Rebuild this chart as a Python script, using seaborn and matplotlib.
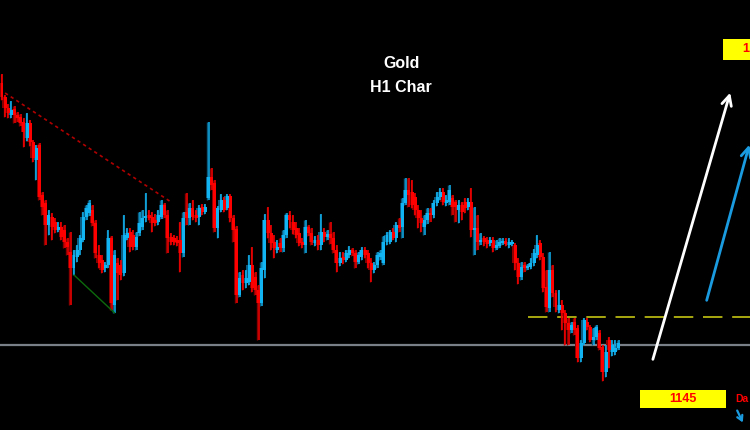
import matplotlib
matplotlib.use("Agg")
import matplotlib.pyplot as plt
import seaborn as sns
import numpy as np
import pandas as pd
from matplotlib.patches import Rectangle

# ---------------- data (Gold, H1 candles) ----------------
opens = [
    1176.7, 1175.3, 1174.2, 1173.5, 1174.1, 1173.5, 1173.3, 1172.8, 1171.2, 1172.7,
    1170.8, 1169.0, 1170.5, 1165.5, 1164.7, 1162.5, 1163.3, 1162.8, 1162.0, 1162.3,
    1162.0, 1160.8, 1159.8, 1158.2, 1159.3, 1160.0, 1161.0, 1163.3, 1163.7, 1164.0,
    1162.7, 1159.5, 1159.0, 1158.2, 1158.5, 1161.2, 1154.5, 1158.7, 1158.5, 1157.7,
    1161.2, 1161.8, 1161.5, 1160.3, 1161.7, 1162.3, 1163.2, 1163.5, 1163.3, 1163.0,
    1162.8, 1163.3, 1164.5, 1163.5, 1161.3, 1161.2, 1161.0, 1161.0, 1159.7, 1163.8,
    1163.2, 1164.2, 1163.5, 1163.3, 1164.3, 1163.8, 1165.2, 1167.3, 1166.7, 1162.2,
    1164.0, 1165.0, 1164.2, 1165.4, 1163.2, 1162.1, 1155.5, 1157.5, 1156.7, 1156.8,
    1158.5, 1157.3, 1156.0, 1154.7, 1158.0, 1163.0, 1161.7, 1160.8, 1160.0, 1160.7,
    1160.2, 1161.5, 1163.5, 1162.8, 1162.2, 1161.7, 1160.8, 1160.5, 1162.3, 1161.7,
    1160.7, 1161.0, 1160.5, 1161.8, 1161.3, 1161.6, 1161.2, 1160.0, 1158.7, 1159.3,
    1159.0, 1159.5, 1160.0,
    1159.7, 1158.8, 1159.3, 1160.0, 1159.7, 1158.7, 1158.0, 1158.5, 1159.3, 1158.7,
    1160.8, 1160.8, 1161.8, 1161.2, 1162.5, 1162.3, 1164.7, 1166.0, 1165.8, 1165.3,
    1164.0, 1163.2, 1162.3, 1163.0, 1163.7, 1163.5, 1164.7, 1165.3, 1165.8, 1164.7,
    1164.8, 1165.2, 1164.8, 1164.0, 1164.5, 1164.8, 1164.3, 1164.8, 1162.0, 1162.2,
    1160.8, 1161.2, 1161.0, 1160.7, 1161.0, 1160.2, 1160.4, 1160.7, 1160.9, 1160.5,
    1160.6, 1160.5, 1158.7, 1157.3, 1158.5, 1158.2, 1158.3, 1158.7, 1159.5, 1160.7,
    1159.3, 1156.3, 1154.2, 1158.0, 1155.7, 1154.0, 1154.5, 1153.7, 1152.7, 1152.0,
    1152.8, 1152.2, 1149.2, 1150.7, 1152.8, 1152.3, 1151.0, 1151.3, 1151.7, 1150.3,
    1147.8, 1151.0, 1149.8, 1149.8, 1150.2,
]
closes = [
    1175.3, 1174.2, 1173.7, 1174.0, 1173.5, 1173.2, 1172.7, 1171.8, 1172.7, 1170.8,
    1169.2, 1170.2, 1165.3, 1164.3, 1162.5, 1163.5, 1162.3, 1162.0, 1162.3, 1161.3,
    1160.8, 1160.3, 1158.2, 1159.5, 1160.0, 1161.2, 1163.3, 1164.2, 1164.7, 1162.7,
    1159.7, 1158.7, 1158.0, 1158.5, 1161.2, 1154.7, 1159.5, 1157.7, 1157.5, 1161.5,
    1161.7, 1160.3, 1160.3, 1161.3, 1162.7, 1163.2, 1163.3, 1163.2, 1162.7, 1162.7,
    1163.5, 1164.5, 1163.5, 1161.2, 1160.8, 1160.8, 1160.7, 1159.7, 1163.2, 1163.2,
    1164.2, 1163.3, 1163.2, 1164.2, 1163.8, 1164.3, 1167.3, 1166.5, 1162.2, 1164.2,
    1165.0, 1164.0, 1165.4, 1163.2, 1162.0, 1155.5, 1157.2, 1156.7, 1157.2, 1158.5,
    1156.2, 1156.0, 1154.7, 1158.2, 1163.0, 1161.7, 1160.7, 1160.2, 1160.3, 1160.2,
    1161.5, 1163.5, 1163.0, 1162.0, 1161.5, 1160.7, 1160.5, 1162.3, 1161.7, 1160.8,
    1161.0, 1160.5, 1161.8, 1161.3, 1161.6, 1161.2, 1160.0, 1158.7, 1159.2, 1159.0,
    1159.7, 1160.0, 1159.7,
    1158.8, 1159.5, 1160.0, 1159.5, 1158.7, 1158.0, 1158.5, 1159.5, 1159.7, 1160.8,
    1161.5, 1161.8, 1161.2, 1162.5, 1162.2, 1164.7, 1166.0, 1165.5, 1164.5, 1164.0,
    1163.2, 1162.7, 1163.0, 1163.7, 1163.5, 1164.7, 1165.3, 1165.8, 1164.8, 1165.0,
    1166.0, 1164.3, 1164.3, 1164.5, 1163.8, 1164.2, 1164.8, 1162.0, 1162.2, 1160.8,
    1161.0, 1160.8, 1160.6, 1161.0, 1160.2, 1160.5, 1160.8, 1160.9, 1160.6, 1160.8,
    1160.8, 1158.7, 1157.3, 1158.3, 1158.2, 1158.3, 1158.7, 1159.7, 1160.5, 1159.3,
    1156.2, 1154.3, 1158.0, 1155.7, 1154.3, 1154.5, 1153.7, 1152.7, 1152.0, 1152.5,
    1152.0, 1149.2, 1150.7, 1153.0, 1152.3, 1151.0, 1151.3, 1152.3, 1150.2, 1147.8,
    1149.8, 1150.0, 1150.5, 1150.2, 1150.7,
]
highs = [
    1177.6, 1175.5, 1174.6, 1174.9, 1174.4, 1173.8, 1173.6, 1173.2, 1173.7, 1173.0,
    1171.0, 1170.5, 1170.7, 1165.8, 1165.0, 1164.0, 1163.7, 1163.2, 1162.8, 1162.8,
    1162.5, 1161.2, 1161.8, 1160.0, 1160.5, 1161.5, 1163.8, 1164.5, 1165.0, 1164.5,
    1163.0, 1160.5, 1159.5, 1158.8, 1162.0, 1161.4, 1160.0, 1159.2, 1159.0, 1163.5,
    1162.2, 1162.2, 1162.0, 1161.8, 1163.8, 1164.0, 1165.7, 1164.0, 1163.8, 1163.6,
    1164.0, 1165.0, 1164.7, 1164.0, 1161.7, 1161.5, 1161.4, 1162.8, 1163.8, 1165.7,
    1164.7, 1165.0, 1164.0, 1164.5, 1164.6, 1164.6, 1172.8, 1168.2, 1167.0, 1164.4,
    1165.6, 1165.3, 1165.6, 1165.6, 1163.5, 1162.4, 1157.8, 1158.0, 1158.0, 1159.5,
    1160.3, 1157.8, 1156.5, 1158.8, 1163.6, 1164.3, 1162.5, 1161.5, 1161.0, 1161.2,
    1162.0, 1163.7, 1163.9, 1163.5, 1162.8, 1162.2, 1161.2, 1163.0, 1162.5, 1162.2,
    1161.4, 1161.5, 1163.6, 1162.2, 1162.0, 1162.8, 1161.8, 1160.5, 1159.8, 1159.8,
    1160.0, 1160.4, 1160.2,
    1160.0, 1159.8, 1160.3, 1160.3, 1160.0, 1159.2, 1158.8, 1159.8, 1160.0, 1161.4,
    1161.8, 1162.0, 1162.2, 1162.8, 1163.2, 1165.2, 1167.2, 1167.2, 1167.0, 1165.7,
    1164.5, 1164.0, 1163.5, 1164.2, 1164.2, 1165.0, 1165.8, 1166.2, 1166.2, 1165.5,
    1166.5, 1165.5, 1165.0, 1165.0, 1164.8, 1165.2, 1165.2, 1166.2, 1164.3, 1163.5,
    1161.7, 1161.4, 1161.3, 1161.3, 1161.3, 1161.0, 1161.2, 1161.2, 1161.2, 1161.2,
    1161.0, 1160.7, 1159.2, 1158.8, 1158.8, 1158.6, 1159.2, 1160.1, 1161.5, 1161.0,
    1159.7, 1158.0, 1159.8, 1158.5, 1156.0, 1156.0, 1155.0, 1154.0, 1153.2, 1152.8,
    1153.2, 1152.5, 1151.0, 1153.2, 1153.2, 1152.5, 1152.2, 1152.5, 1152.0, 1150.5,
    1150.5, 1151.3, 1151.0, 1151.0, 1151.0,
]
lows = [
    1175.0, 1173.3, 1173.2, 1173.2, 1172.7, 1172.8, 1172.4, 1170.3, 1170.9, 1170.4,
    1168.8, 1167.0, 1165.0, 1163.5, 1160.5, 1161.5, 1161.0, 1161.7, 1161.8, 1161.0,
    1160.2, 1159.5, 1154.5, 1157.5, 1158.8, 1159.5, 1160.8, 1163.0, 1163.4, 1162.4,
    1159.2, 1158.2, 1157.7, 1157.8, 1158.2, 1154.0, 1153.7, 1155.0, 1157.0, 1157.4,
    1161.0, 1159.8, 1160.0, 1160.0, 1161.4, 1162.0, 1162.8, 1163.0, 1161.8, 1162.4,
    1162.5, 1163.1, 1163.2, 1159.7, 1160.5, 1160.5, 1160.4, 1157.8, 1159.3, 1162.5,
    1162.5, 1163.0, 1162.8, 1162.5, 1163.5, 1163.6, 1165.0, 1166.0, 1161.8, 1161.2,
    1163.8, 1163.8, 1164.0, 1162.8, 1160.8, 1154.7, 1155.3, 1156.0, 1156.2, 1156.5,
    1155.8, 1155.5, 1151.0, 1154.4, 1157.2, 1161.2, 1160.0, 1159.2, 1159.7, 1159.8,
    1159.8, 1161.2, 1162.2, 1161.6, 1161.2, 1160.4, 1160.2, 1159.7, 1161.4, 1160.5,
    1160.4, 1160.0, 1160.0, 1160.8, 1161.0, 1160.6, 1159.7, 1157.8, 1158.4, 1158.6,
    1158.8, 1159.2, 1159.4,
    1158.2, 1158.6, 1159.0, 1159.2, 1158.2, 1156.8, 1157.7, 1158.2, 1159.0, 1158.5,
    1160.5, 1160.6, 1161.0, 1160.8, 1161.8, 1161.2, 1164.5, 1164.3, 1164.2, 1163.5,
    1162.2, 1161.8, 1161.5, 1162.6, 1162.8, 1163.2, 1164.4, 1165.0, 1164.5, 1164.4,
    1164.5, 1163.5, 1162.8, 1162.7, 1163.0, 1163.7, 1164.0, 1161.3, 1159.5, 1160.0,
    1160.5, 1160.4, 1160.2, 1160.4, 1159.8, 1160.0, 1160.2, 1160.5, 1160.4, 1160.2,
    1160.4, 1158.0, 1156.6, 1157.0, 1157.8, 1158.0, 1158.1, 1158.4, 1159.2, 1159.0,
    1155.8, 1153.8, 1153.8, 1155.3, 1153.8, 1153.7, 1152.0, 1150.5, 1150.5, 1151.7,
    1151.5, 1148.8, 1148.8, 1150.5, 1152.0, 1150.8, 1150.5, 1151.0, 1150.0, 1146.9,
    1147.3, 1148.2, 1149.4, 1149.5, 1150.0,
]

# analysis objects (bar index, price)
resist_line = [(1, 1175.7), (54, 1164.8)]
support_line = [(23, 1157.5), (36, 1153.7)]
gray_level = 1150.5
dashed_level = 1153.3
dashed_start = 168
white_arrow = [(207.7, 1148.8), (232.9, 1176.0)]
blue_arrow = [(224.9, 1154.7), (239.0, 1170.8)]
target_low = "1145"
target_high = "1"
side_label = "Da"
title_lines = ["Gold", "H1 Char"]

# ---------------- plotting ----------------
sns.set_style("dark", {"axes.facecolor": "black", "figure.facecolor": "black"})

df = pd.DataFrame({"o": opens, "h": highs, "l": lows, "c": closes})
df["i"] = np.arange(len(df))
up = df["c"] >= df["o"]
RED = "#ff0000"
BLUE = "#12b4f2"
RED_DK = "#8a0000"
BLUE_DK = "#0a5c82"
df["col"] = np.where(up, BLUE, RED)
df["col_dk"] = np.where(up, BLUE_DK, RED_DK)

fig = plt.figure(figsize=(7.5, 4.3), dpi=100)
ax = fig.add_axes([0, 0, 1, 1])
ax.set_facecolor("black")

step = 3.13
ax.set_xlim(-2 / step, -2 / step + 750 / step)
ax.set_ylim(1142.0, 1185.0)

body_lo = np.minimum(df["o"], df["c"])
body_h = np.maximum(np.abs(df["c"] - df["o"]), 0.15)

# darker shadow layer of the same candles (as in the terminal screenshot)
ax.vlines(df["i"] - 0.45, df["l"], df["h"], colors=df["col_dk"], linewidth=1.0, zorder=1.5)
ax.bar(df["i"] - 0.45, body_h, bottom=body_lo, width=0.95, color=df["col_dk"],
       linewidth=0, zorder=1.6)

# wicks
ax.vlines(df["i"], df["l"], df["h"], colors=df["col"], linewidth=1.1, zorder=2)
# bodies
ax.bar(df["i"], body_h, bottom=body_lo, width=0.95, color=df["col"],
       linewidth=0, zorder=3)

# trend lines via seaborn
rl = pd.DataFrame(resist_line, columns=["i", "p"])
sns.lineplot(data=rl, x="i", y="p", ax=ax, color="#b00000", linewidth=1.2,
             linestyle=(0, (2, 2)), zorder=4)
sl = pd.DataFrame(support_line, columns=["i", "p"])
sns.lineplot(data=sl, x="i", y="p", ax=ax, color="#0c6a0c", linewidth=1.0, zorder=4)

# horizontal levels
ax.axhline(gray_level, color="#7a8088", linewidth=1.6, zorder=1)
ax.plot([dashed_start, 250], [dashed_level, dashed_level], color="#a8a810",
        linewidth=1.4, linestyle=(0, (10, 5)), zorder=1)

# arrows
ax.annotate("", xy=white_arrow[1], xytext=white_arrow[0], annotation_clip=False,
            arrowprops=dict(arrowstyle="->,head_length=0.7,head_width=0.35",
                            color="white", lw=2.0), zorder=5)
ax.annotate("", xy=blue_arrow[1], xytext=blue_arrow[0], annotation_clip=False,
            arrowprops=dict(arrowstyle="->,head_length=0.7,head_width=0.35",
                            color="#1a9be0", lw=2.0), zorder=5)
ax.annotate("", xy=(744 / 750, 1 - 425 / 430), xytext=(736 / 750, 1 - 408 / 430),
            xycoords="axes fraction", textcoords="axes fraction",
            annotation_clip=False,
            arrowprops=dict(arrowstyle="->,head_length=0.35,head_width=0.2",
                            color="#1a9be0", lw=1.6))

# yellow price boxes
ax.add_patch(Rectangle((640 / 750, 1 - 408 / 430), 86 / 750, 18 / 430,
                       transform=ax.transAxes, facecolor="#ffff00",
                       edgecolor="none", zorder=6))
ax.text(683 / 750, 1 - 399 / 430, target_low, transform=ax.transAxes,
        ha="center", va="center", color="#ff0000", fontsize=9,
        fontweight="bold", family="Liberation Sans", zorder=7)
ax.add_patch(Rectangle((723 / 750, 1 - 60 / 430), 40 / 750, 21 / 430,
                       transform=ax.transAxes, facecolor="#ffff00",
                       edgecolor="none", zorder=6, clip_on=False))
ax.text(742 / 750, 1 - 49 / 430, target_high, transform=ax.transAxes,
        ha="left", va="center", color="#ff0000", fontsize=9,
        fontweight="bold", family="Liberation Sans", zorder=7)
ax.text(735 / 750, 1 - 399 / 430, side_label, transform=ax.transAxes,
        ha="left", va="center", color="#ff0000", fontsize=7.5,
        fontweight="bold", family="Liberation Sans", zorder=7)

# title
ax.text(402 / 750, 1 - 63 / 430, title_lines[0], transform=ax.transAxes,
        ha="center", va="center", color="white", fontsize=11.5,
        fontweight="bold", family="Liberation Sans")
ax.text(401 / 750, 1 - 88 / 430, title_lines[1], transform=ax.transAxes,
        ha="center", va="center", color="white", fontsize=11.5,
        fontweight="bold", family="Liberation Sans")

ax.set_xticks([])
ax.set_yticks([])
ax.set_xlabel("")
ax.set_ylabel("")
for s in ax.spines.values():
    s.set_visible(False)

fig.savefig("out.png", dpi=100, facecolor="black")
